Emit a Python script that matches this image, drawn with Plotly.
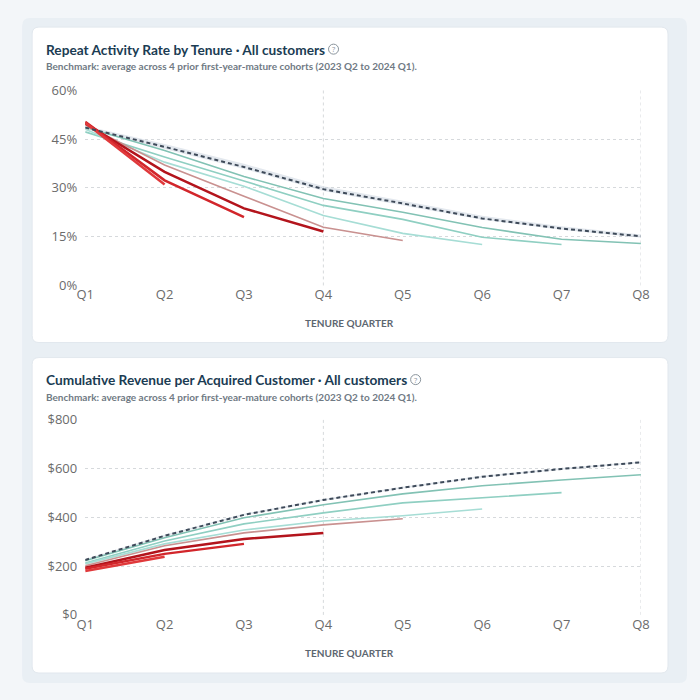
import plotly.graph_objects as go

quarters = ["Q1", "Q2", "Q3", "Q4", "Q5", "Q6", "Q7", "Q8"]
tenure = [1, 2, 3, 4, 5, 6, 7, 8]

cohorts = ["2023 Q2", "2023 Q3", "2023 Q4", "2024 Q1", "2024 Q2", "2024 Q3", "2024 Q4"]

# repeat activity rate, %
rate_ticks = [0, 15, 30, 45, 60]
rate_labels = ["0%", "15%", "30%", "45%", "60%"]
rate_bench = [48.5, 42.6, 36.4, 29.6, 25.2, 20.6, 17.5, 15.1]
rate_bench_hi = [49.1, 43.5, 37.4, 30.5, 26.0, 21.4, 18.2, 15.7]
rate_bench_lo = [48.1, 42.0, 35.8, 29.0, 24.7, 20.2, 17.1, 14.7]
rate_cohorts = [
    [48.6, 41.5, 33.5, 26.7, 22.5, 17.8, 14.2, 12.9],
    [47.2, 39.5, 32.1, 24.6, 20.3, 14.8, 12.6],
    [48.0, 37.9, 30.5, 21.5, 16.0, 12.6],
    [49.3, 37.0, 27.4, 17.9, 13.8],
    [49.8, 34.9, 23.7, 16.6],
    [50.3, 32.3, 21.0],
    [50.0, 31.0],
]

# cumulative revenue per acquired customer, $
rev_ticks = [0, 200, 400, 600, 800]
rev_labels = ["$0", "$200", "$400", "$600", "$800"]
rev_bench = [225, 324, 410, 471, 521, 566, 598, 625]
rev_bench_hi = [228, 328, 414, 475, 525, 570, 602, 629]
rev_bench_lo = [222, 321, 407, 468, 518, 563, 595, 622]
rev_cohorts = [
    [222, 316, 398, 451, 496, 529, 553, 574],
    [213, 303, 373, 418, 459, 480, 501],
    [209, 291, 348, 385, 406, 434],
    [201, 283, 336, 369, 394],
    [193, 266, 311, 336],
    [189, 250, 291],
    [180, 238],
]

colors = ["#82c2b4", "#8fcfc2", "#a6ddd5", "#c99190", "#b3141c", "#d2262b", "#e0393b"]
widths = [1.6, 1.6, 1.6, 1.6, 2.5, 2.5, 2.5]

W = 700
# the photographed page comes out slightly shrunk and offset; undo that
S = 0.973
O = 8.9
BG = "#f3f6f9"


def px_x(v):
    return ((v - O) / S) / W


def px_y(v):
    return 1 - ((v - O) / S) / W


def rounded(x0, y0, x1, y1, r):
    # pixel box -> paper path with rounded corners
    X0, X1 = px_x(x0), px_x(x1)
    Y0, Y1 = px_y(y0), px_y(y1)
    rx, ry = r / W, r / W
    return (f"M{X0+rx},{Y0} L{X1-rx},{Y0} Q{X1},{Y0} {X1},{Y0-ry} "
            f"L{X1},{Y1+ry} Q{X1},{Y1} {X1-rx},{Y1} L{X0+rx},{Y1} "
            f"Q{X0},{Y1} {X0},{Y1+ry} L{X0},{Y0-ry} Q{X0},{Y0} {X0+rx},{Y0} Z")


fig = go.Figure()


def add_panel(bench, hi, lo, series, xa, ya):
    fig.add_trace(go.Scatter(x=tenure, y=hi, mode="lines", line=dict(width=0),
                             xaxis=xa, yaxis=ya, showlegend=False, hoverinfo="skip"))
    fig.add_trace(go.Scatter(x=tenure, y=lo, mode="lines", line=dict(width=0),
                             fill="tonexty", fillcolor="rgba(200,210,222,0.5)",
                             xaxis=xa, yaxis=ya, showlegend=False, hoverinfo="skip"))
    for name, vals, c, w in zip(cohorts, series, colors, widths):
        fig.add_trace(go.Scatter(x=tenure[:len(vals)], y=vals, mode="lines", name=name,
                                 line=dict(color=c, width=w),
                                 xaxis=xa, yaxis=ya, showlegend=False))
    fig.add_trace(go.Scatter(x=tenure, y=bench, mode="lines", name="Benchmark",
                             line=dict(color="#3e4a59", width=2, dash="4px,3px"),
                             xaxis=xa, yaxis=ya, showlegend=False))


add_panel(rate_bench, rate_bench_hi, rate_bench_lo, rate_cohorts, "x", "y")
add_panel(rev_bench, rev_bench_hi, rev_bench_lo, rev_cohorts, "x2", "y2")

tick_font = dict(family="Open Sans, sans-serif", size=13, color="#6b6b6b")
xcommon = dict(range=[1, 8], tickvals=tenure, ticktext=quarters, showgrid=False,
               zeroline=False, showline=False, ticks="", tickfont=tick_font, fixedrange=True)
ycommon = dict(showgrid=True, gridcolor="#d6d9dc", griddash="dot", gridwidth=1,
               zeroline=False, showline=False, ticks="", tickfont=tick_font, fixedrange=True,
               ticklabelstandoff=7)

shapes = [
    dict(type="path", path=rounded(22, 18, 686, 682, 8), xref="paper", yref="paper",
         fillcolor="#e9eff4", line=dict(width=0), layer="below"),
    dict(type="path", path=rounded(32, 27, 667, 342, 7), xref="paper", yref="paper",
         fillcolor="#ffffff", line=dict(color="#e2e8ee", width=1), layer="below"),
    dict(type="path", path=rounded(32, 357, 667, 672, 7), xref="paper", yref="paper",
         fillcolor="#ffffff", line=dict(color="#e2e8ee", width=1), layer="below"),
]
for xr, yr in [("x", "y domain"), ("x2", "y2 domain")]:
    for q in [4, 8]:
        shapes.append(dict(type="line", xref=xr, yref=yr, x0=q, x1=q, y0=0, y1=1,
                           line=dict(color="#d6d9dc", width=1, dash="dot"), layer="below"))

titles = [
    ("Repeat Activity Rate by Tenure · All customers", 49, 66, 333),
    ("Cumulative Revenue per Acquired Customer · All customers", 379, 396, 415),
]
subtitle = "Benchmark: average across 4 prior first-year-mature cohorts (2023 Q2 to 2024 Q1)."
annotations = []
for text, ty, sy, qx in titles:
    annotations.append(dict(text=f"<b>{text}</b>", x=px_x(44), y=px_y(ty), xref="paper", yref="paper",
                            xanchor="left", yanchor="middle", showarrow=False,
                            font=dict(family="Lato, sans-serif", size=13.7, color="#1b3c53")))
    annotations.append(dict(text=f"<b>{subtitle}</b>", x=px_x(44), y=px_y(sy), xref="paper", yref="paper",
                            xanchor="left", yanchor="middle", showarrow=False,
                            font=dict(family="Lato, sans-serif", size=10, color="#707a84")))
    annotations.append(dict(text="?", x=px_x(qx), y=px_y(ty), xref="paper", yref="paper",
                            xanchor="center", yanchor="middle", showarrow=False,
                            font=dict(family="Open Sans, sans-serif", size=7.5, color="#8a949c")))
    shapes.append(dict(type="circle", xref="paper", yref="paper",
                       x0=px_x(qx - 5), x1=px_x(qx + 5), y0=px_y(ty + 5), y1=px_y(ty - 5),
                       line=dict(color="#8a949c", width=1)))
for ay in [322, 652]:
    annotations.append(dict(text="<b>TENURE QUARTER</b>", x=px_x(349), y=px_y(ay), xref="paper",
                            yref="paper", xanchor="center", yanchor="middle", showarrow=False,
                            font=dict(family="Lato, sans-serif", size=10, color="#5d6670")))

fig.update_layout(
    width=700, height=700,
    margin=dict(l=0, r=0, t=0, b=0),
    paper_bgcolor=BG,
    plot_bgcolor="rgba(0,0,0,0)",
    showlegend=False,
    xaxis=dict(xcommon, domain=[px_x(85), px_x(640)], anchor="y"),
    yaxis=dict(ycommon, domain=[px_y(285), px_y(90)], range=[0, 60],
               tickvals=rate_ticks, ticktext=rate_labels, anchor="x"),
    xaxis2=dict(xcommon, domain=[px_x(85), px_x(640)], anchor="y2"),
    yaxis2=dict(ycommon, domain=[px_y(614), px_y(419)], range=[0, 800],
                tickvals=rev_ticks, ticktext=rev_labels, anchor="x2"),
    shapes=shapes,
    annotations=annotations,
)

fig.write_html("out.html", config={"displayModeBar": False},
               post_script="document.body.style.margin='0';document.body.style.overflow='hidden';"
                           f"document.body.style.background='{BG}';"
                           f"document.documentElement.style.background='{BG}';")
